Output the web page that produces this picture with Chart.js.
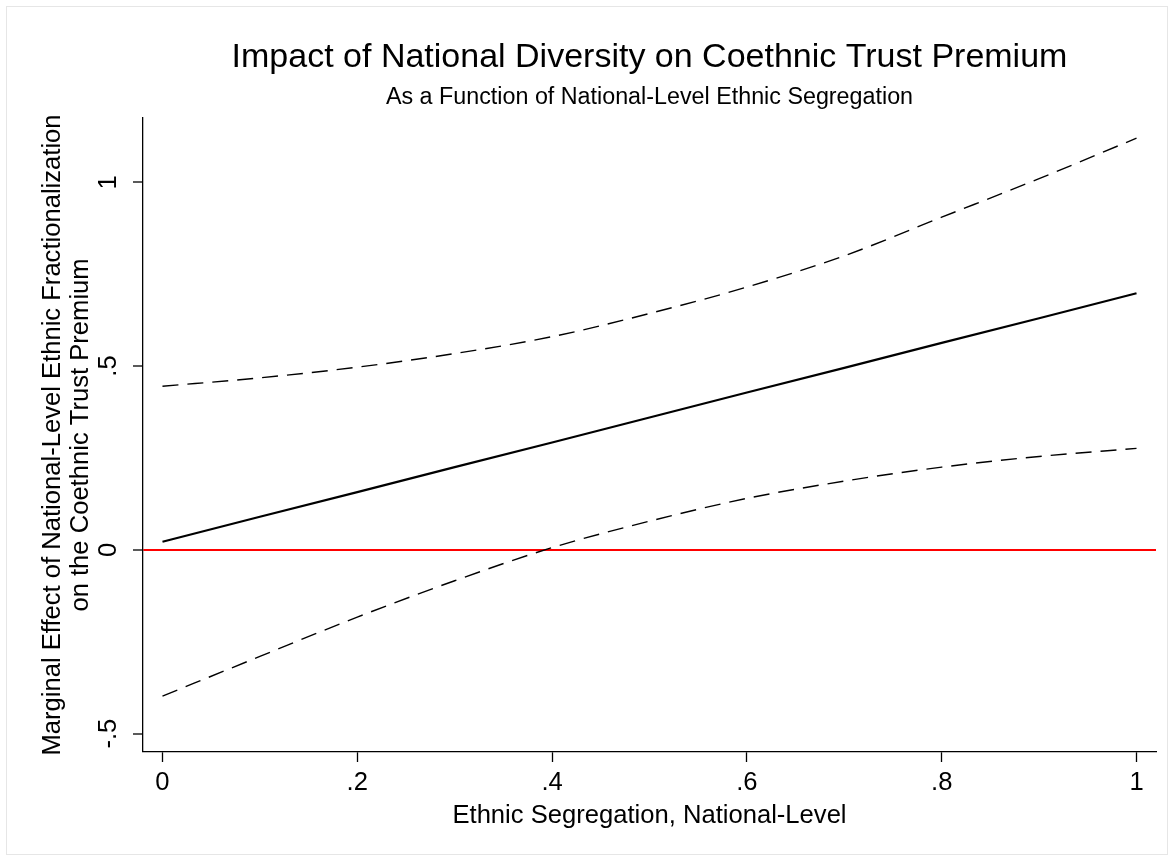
<!DOCTYPE html>
<html>
<head>
<meta charset="utf-8">
<title>Impact of National Diversity on Coethnic Trust Premium</title>
<script src="https://cdn.jsdelivr.net/npm/chart.js@4.4.1/dist/chart.umd.min.js"></script>
<style>
  html, body { margin: 0; padding: 0; background: #fff; }
  canvas { display: block; }
</style>
</head>
<body>
<canvas id="chart" width="1174" height="861"></canvas>
<script>
// segregation values (x) and the estimated marginal effect with its 95% bounds
const segregation = [0, 0.1, 0.2, 0.3, 0.4, 0.5, 0.6, 0.7, 0.8, 0.9, 1];
const effect = [0.022, 0.090, 0.157, 0.225, 0.292, 0.360, 0.428, 0.495, 0.563, 0.630, 0.698];
const upper  = [0.445, 0.468, 0.497, 0.534, 0.580, 0.643, 0.715, 0.800, 0.905, 1.010, 1.120];
const lower  = [-0.398, -0.290, -0.183, -0.084, 0.006, 0.078, 0.140, 0.187, 0.225, 0.254, 0.276];

const xTicks = [0, 0.2, 0.4, 0.6, 0.8, 1];
const xTickLabels = ['0', '.2', '.4', '.6', '.8', '1'];
const yTicks = [-0.5, 0, 0.5, 1];
const yTickLabels = ['-.5', '0', '.5', '1'];

const FONT = '"Liberation Sans", Helvetica, Arial, sans-serif';

const pts = arr => segregation.map((x, i) => ({ x: x, y: arr[i] }));

const frame = {
  id: 'frame',
  beforeDraw(chart) {
    const c = chart.ctx;
    c.save();
    c.fillStyle = '#fff';
    c.fillRect(0, 0, chart.width, chart.height);
    c.strokeStyle = '#e6e6e6';
    c.lineWidth = 1;
    c.strokeRect(6.5, 6.5, chart.width - 13, chart.height - 13);
    c.restore();
  }
};

const dashed = {
  borderColor: '#000',
  borderWidth: 1.4,
  borderDash: [16, 9],
  pointRadius: 0,
  cubicInterpolationMode: 'monotone',
  fill: false
};

new Chart(document.getElementById('chart'), {
  type: 'line',
  data: {
    datasets: [
      Object.assign({ label: 'Upper bound', data: pts(upper) }, dashed),
      { label: 'Marginal effect', data: pts(effect), borderColor: '#000', borderWidth: 2.2,
        pointRadius: 0, fill: false },
      Object.assign({ label: 'Lower bound', data: pts(lower) }, dashed)
    ]
  },
  options: {
    responsive: false,
    devicePixelRatio: 1,
    animation: false,
    layout: { padding: { top: 0, left: 0, right: 18, bottom: 0 } },
    plugins: {
      legend: { display: false },
      tooltip: { enabled: false },
      title: {
        display: true,
        fullSize: false,
        text: 'Impact of National Diversity on Coethnic Trust Premium',
        color: '#000',
        font: { family: FONT, size: 34, weight: 'normal', lineHeight: 1.2 },
        padding: { top: 36.8, bottom: 0 }
      },
      subtitle: {
        display: true,
        fullSize: false,
        text: 'As a Function of National-Level Ethnic Segregation',
        color: '#000',
        font: { family: FONT, size: 23.3, weight: 'normal', lineHeight: 1.2 },
        padding: { top: 6.1, bottom: 6.3 }
      }
    },
    scales: {
      x: {
        type: 'linear',
        min: -0.02,
        max: 1.02,
        afterBuildTicks: s => { s.ticks = xTicks.map(v => ({ value: v })); },
        afterFit: s => { s.height = 109; },
        ticks: {
          color: '#000',
          font: { family: FONT, size: 25.6 },
          padding: 6,
          maxRotation: 0,
          callback: (v, i) => xTickLabels[i]
        },
        grid: { drawOnChartArea: false, drawTicks: true, tickLength: 10, tickColor: '#000', tickWidth: 1.3 },
        border: { display: true, color: '#000', width: 1.3 },
        title: {
          display: true,
          text: 'Ethnic Segregation, National-Level',
          color: '#000',
          font: { family: FONT, size: 25.6, lineHeight: 1.2 },
          padding: { top: 0, bottom: 29.6 }
        }
      },
      y: {
        type: 'linear',
        min: -0.55,
        max: 1.175,
        afterBuildTicks: s => { s.ticks = yTicks.map(v => ({ value: v })); },
        afterFit: s => { s.width = 143; },
        ticks: {
          color: '#000',
          font: { family: FONT, size: 25.6 },
          padding: 8.7,
          minRotation: 90,
          maxRotation: 90,
          crossAlign: 'center',
          callback: (v, i) => yTickLabels[i]
        },
        grid: {
          drawOnChartArea: true,
          drawTicks: true,
          tickLength: 10,
          tickColor: '#000',
          tickWidth: 1.3,
          color: c => (c.tick && c.tick.value === 0 ? '#ff0000' : 'rgba(0,0,0,0)'),
          lineWidth: c => (c.tick && c.tick.value === 0 ? 2 : 0)
        },
        border: { display: true, color: '#000', width: 1.3 },
        title: {
          display: true,
          text: ['Marginal Effect of National-Level Ethnic Fractionalization', 'on the Coethnic Trust Premium'],
          color: '#000',
          font: { family: FONT, size: 25.6, lineHeight: 1.08 },
          padding: { top: 39, bottom: 0 }
        }
      }
    }
  },
  plugins: [frame]
});
</script>
</body>
</html>
